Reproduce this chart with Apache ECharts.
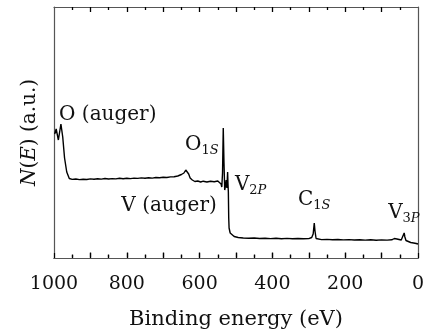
<!DOCTYPE html>
<html>
<head>
<meta charset="utf-8">
<script src="https://cdn.jsdelivr.net/npm/echarts@6/dist/echarts.min.js"></script>
<style>
  html, body { margin: 0; padding: 0; background: #fff; }
  #chart { width: 427px; height: 333px; }
</style>
</head>
<body>
<div id="chart"></div>
<script>
// binding energy (eV) and intensity (arbitrary units)
const energy = [998, 994, 988, 981, 976, 971, 965, 958, 950, 940, 930, 920, 910, 900, 890, 880, 870, 860, 850, 840, 830, 820, 810, 800, 790, 780, 770, 760, 750, 740, 730, 720, 710, 700, 690, 680, 670, 660, 650, 643, 638, 634, 630, 626, 620, 613, 605, 597, 590, 580, 570, 560, 550, 545, 541, 539, 537, 535, 533, 531, 529, 527, 525, 523, 522, 521, 520, 519, 516, 512, 505, 494, 480, 465, 450, 435, 420, 405, 390, 375, 360, 345, 330, 315, 300, 292, 288, 285, 283, 280, 275, 265, 250, 235, 220, 205, 190, 175, 160, 145, 130, 115, 100, 85, 72, 65, 62, 58, 54, 46, 41, 38, 36, 33, 28, 20, 12, 5, 0];
const counts = [124, 129, 118, 134, 121, 100, 86, 79.5, 78.6, 79, 78.4, 78.8, 78.5, 79.1, 78.7, 79.3, 78.9, 79.5, 79, 79.4, 79.1, 79.7, 79.3, 79.8, 79.4, 79.9, 79.6, 80.1, 79.7, 80.3, 79.9, 80.5, 80.2, 80.8, 80.5, 81.1, 81.3, 82, 83.5, 85, 88, 90, 84, 80, 78, 76.5, 77, 76, 76.8, 76, 76.7, 76.3, 77, 76, 74, 71, 85, 130, 95, 68, 72, 78, 70, 86, 74, 66, 40, 30, 25, 23, 21.5, 20.5, 20, 19.7, 20, 19.5, 19.8, 19.4, 19.7, 19.3, 19.6, 19.2, 19.5, 19.2, 19.4, 20.5, 24, 35, 27, 19.5, 18.6, 18.4, 18.6, 18.2, 18.5, 18.1, 18.4, 18, 18.3, 17.9, 18.2, 17.8, 18.1, 17.9, 18.2, 19.5, 21, 19, 17.8, 18, 20, 25, 21, 17.5, 16.5, 15.5, 15, 14.5, 14];

// peak annotations: text and anchor (left edge energy, vertical middle intensity)
const peakLabels = ['{t|O (auger)}', '{t|O}{s|1}{si|S}', '{t|V (auger)}', '{t|V}{s|2}{si|P}', '{t|C}{s|1}{si|S}', '{t|V}{s|3}{si|P}'];
const peakEnergy = [986, 640, 815, 503, 330, 82];
const peakLevel = [143, 113, 52, 73, 58, 45];

const xTickLabels = [1000, 800, 600, 400, 200, 0];
const majorTicks = [100, 200, 300, 400, 500, 600, 700, 800, 900];
const minorTicks = [50, 150, 250, 350, 450, 550, 650, 750, 850, 950];

const yMin = 0;
const yMax = 251;

const chart = echarts.init(document.getElementById('chart'));
const serif = 'DejaVu Serif';
const frame = '#555';

const spectrum = energy.map((e, i) => [e, counts[i]]);
const marks = peakLabels.map((t, i) => ({
  coord: [peakEnergy[i], peakLevel[i]],
  label: { formatter: t }
}));

// inward tick marks as short markLine segments in data units
function tickSegments(values, edge, len) {
  return values.map(v => [{ coord: [v, edge] }, { coord: [v, edge + len] }]);
}
const tickLines = [].concat(
  tickSegments(majorTicks, yMax, -5),
  tickSegments(minorTicks, yMax, -3),
  tickSegments(majorTicks, yMin + 0.5, 5),
  tickSegments(minorTicks, yMin + 0.5, 3)
);

const option = {
  animation: false,
  grid: { left: 54, right: 9, top: 7, bottom: 75, outerBoundsMode: 'none', containLabel: false },
  xAxis: [{
    type: 'value',
    inverse: true,
    position: 'bottom',
    min: 0,
    max: 1000,
    interval: 100,
    name: 'Binding energy (eV)',
    nameLocation: 'middle',
    nameGap: 51,
    nameTextStyle: { fontFamily: serif, fontSize: 21, color: '#111' },
    axisLine: { show: true, onZero: false, lineStyle: { color: frame, width: 1.2 } },
    axisTick: { show: false },
    splitLine: { show: false },
    axisLabel: {
      fontFamily: serif, fontSize: 19, color: '#111', margin: 17,
      formatter: v => xTickLabels.includes(v) ? String(v) : ''
    }
  }, {
    type: 'value',
    inverse: true,
    position: 'top',
    min: 0,
    max: 1000,
    interval: 100,
    axisLine: { show: true, onZero: false, lineStyle: { color: frame, width: 1.2 } },
    axisTick: { show: false },
    splitLine: { show: false },
    axisLabel: { show: false }
  }, {
    // a top-type axis dropped onto the zero line: its outward ticks point up into the plot
    type: 'value',
    inverse: true,
    position: 'top',
    min: 0,
    max: 1000,
    interval: 100,
    axisLine: { show: true, onZero: true, onZeroAxisIndex: 0, lineStyle: { color: frame, width: 1.2 } },
    axisTick: { show: true, inside: false, length: 5, lineStyle: { color: '#000', width: 1.2 } },
    minorTick: { show: true, splitNumber: 2, length: 3, lineStyle: { color: '#000', width: 1.2 } },
    splitLine: { show: false },
    axisLabel: { show: false }
  }],
  yAxis: [{
    type: 'value',
    position: 'left',
    min: yMin,
    max: yMax,
    name: '{i|N}({i|E}) (a.u.)',
    nameLocation: 'middle',
    nameRotate: 90,
    nameGap: 14,
    nameTextStyle: {
      fontFamily: serif, fontSize: 20, color: '#111',
      rich: { i: { fontFamily: serif, fontSize: 20, fontStyle: 'italic', color: '#111' } }
    },
    axisLine: { show: true, onZero: false, lineStyle: { color: frame, width: 1.2 } },
    axisTick: { show: false },
    axisLabel: { show: false },
    splitLine: { show: false }
  }, {
    type: 'value',
    position: 'right',
    min: yMin,
    max: yMax,
    axisLine: { show: true, onZero: false, lineStyle: { color: frame, width: 1.2 } },
    axisTick: { show: false },
    axisLabel: { show: false },
    splitLine: { show: false }
  }],
  series: [{
    type: 'line',
    data: spectrum,
    showSymbol: false,
    symbol: 'none',
    clip: false,
    lineStyle: { color: '#000', width: 1.4 },
    markLine: {
      silent: true,
      z: 10,
      symbol: ['none', 'none'],
      label: { show: false },
      lineStyle: { color: '#000', width: 1.3, type: 'solid' },
      data: tickLines
    },
    markPoint: {
      symbol: 'circle',
      symbolSize: 0,
      silent: true,
      label: {
        show: true,
        position: 'right',
        distance: 0,
        color: '#111',
        rich: {
          t: { fontFamily: serif, fontSize: 20, color: '#111' },
          s: { fontFamily: serif, fontSize: 13, color: '#111', padding: [12, 0, 0, 0] },
          si: { fontFamily: serif, fontSize: 13, fontStyle: 'italic', color: '#111', padding: [12, 0, 0, 0] }
        }
      },
      data: marks
    }
  }]
};

chart.setOption(option);
</script>
</body>
</html>
